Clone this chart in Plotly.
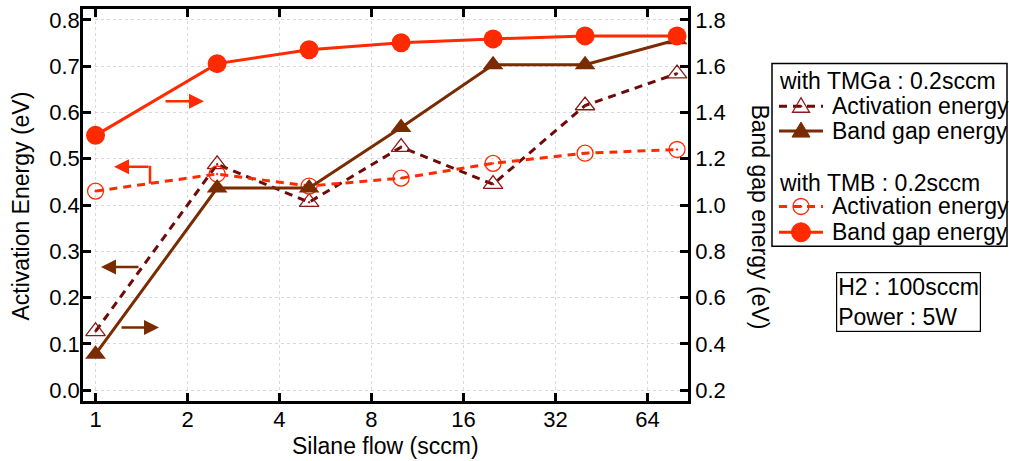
import plotly.graph_objects as go

silane_flow = [1, 2.5, 5, 10, 20, 40, 80]
tmga_activation = [0.127, 0.488, 0.406, 0.525, 0.445, 0.615, 0.684]
tmga_bandgap = [0.355, 1.073, 1.073, 1.335, 1.606, 1.606, 1.714]
tmb_activation = [0.430, 0.467, 0.441, 0.458, 0.490, 0.512, 0.520]
tmb_bandgap = [1.301, 1.611, 1.671, 1.701, 1.718, 1.731, 1.731]

x_ticks = [1, 2, 4, 8, 16, 32, 64]
left_ticks = [0.0, 0.1, 0.2, 0.3, 0.4, 0.5, 0.6, 0.7, 0.8]
right_ticks = [0.2, 0.4, 0.6, 0.8, 1.0, 1.2, 1.4, 1.6, 1.8]

legend_groups = ["with TMGa : 0.2sccm", "with TMB : 0.2sccm"]
legend_items = ["Activation energy", "Band gap energy"]
info_text = ["H2 : 100sccm", "Power : 5W"]

RED = "#FF2A00"
BROWN = "#7A2B00"
MAROON = "#6E0A0A"
TRI_OPEN = "#8B1A1A"
FONT = "Liberation Sans, Arial, sans-serif"
DASH = "8px,6px"
TXT = 23
TICK = 22

# plot area in pixels
PL, PR, PT, PB = 83, 688, 6, 401
def px(x):
    return (x - PL) / (PR - PL)
def py(y):
    return (PB - y) / (PB - PT)

fig = go.Figure()

fig.add_trace(go.Scatter(
    x=silane_flow, y=tmga_activation, mode="lines+markers", showlegend=False,
    line=dict(color=MAROON, width=3, dash=DASH),
    marker=dict(symbol="triangle-up-open-dot", size=17, color=TRI_OPEN, line=dict(width=1.3)),
))
fig.add_trace(go.Scatter(
    x=silane_flow, y=tmga_bandgap, mode="lines+markers", yaxis="y2", showlegend=False,
    line=dict(color=BROWN, width=3),
    marker=dict(symbol="triangle-up", size=18, color=BROWN),
))
fig.add_trace(go.Scatter(
    x=silane_flow, y=tmb_activation, mode="lines+markers", showlegend=False,
    line=dict(color=RED, width=3, dash=DASH),
    marker=dict(symbol="circle-open-dot", size=16, color=RED, line=dict(width=1.3)),
))
fig.add_trace(go.Scatter(
    x=silane_flow, y=tmb_bandgap, mode="lines+markers", yaxis="y2", showlegend=False,
    line=dict(color=RED, width=3),
    marker=dict(symbol="circle", size=19, color=RED),
))

axis_common = dict(
    showline=True, linecolor="black", linewidth=2.5,
    ticks="inside", ticklen=8, tickwidth=2.5, tickcolor="black",
    tickfont=dict(size=TICK, color="black", family=FONT),
    zeroline=False,
)

fig.update_layout(
    width=1009, height=461,
    margin=dict(l=PL, r=1009 - PR, t=PT, b=461 - PB),
    paper_bgcolor="white", plot_bgcolor="white",
    font=dict(family=FONT, size=TXT, color="black"),
    showlegend=False,
    xaxis=dict(
        type="log", range=[-0.041, 1.939],
        tickvals=x_ticks, ticktext=[str(v) for v in x_ticks],
        mirror="ticks",
        showgrid=True, gridcolor="#d9d9d9", griddash="dot", gridwidth=1,
        ticklabelstandoff=-3,
        **axis_common,
    ),
    yaxis=dict(
        range=[-0.0236, 0.8236],
        tickvals=left_ticks, ticktext=[f"{v:.1f}" for v in left_ticks],
        showgrid=True, gridcolor="#d9d9d9", griddash="dot", gridwidth=1,
        ticklabelstandoff=-4,
        **axis_common,
    ),
    yaxis2=dict(
        overlaying="y", side="right",
        range=[0.1528, 1.8472],
        tickvals=right_ticks, ticktext=[f"{v:.1f}" for v in right_ticks],
        showgrid=False,
        **axis_common,
    ),
)

def text_ann(text, x, y, xanchor="center", yanchor="middle", angle=0, **kw):
    d = dict(text=text, xref="paper", yref="paper", x=px(x), y=py(y),
             xanchor=xanchor, yanchor=yanchor, showarrow=False, textangle=angle,
             font=dict(size=TXT, color="black"))
    d.update(kw)
    return d

ann = []
shapes = []
# axis titles
ann.append(text_ann("Silane flow (sccm)", 385.5, 446))
ann.append(text_ann("Activation Energy (eV)", 21, 205, angle=-90))
ann.append(text_ann("Band gap energy (eV)", 760, 215, angle=90))

# info box
ann.append(text_ann("<br>".join(info_text), 836, 271, xanchor="left", yanchor="top",
                    align="left", bordercolor="black", borderwidth=1.2, borderpad=1))

# manual legend
shapes.append(dict(type="rect", xref="paper", yref="paper",
                   x0=px(772), x1=px(1007), y0=py(61), y1=py(245),
                   line=dict(color="black", width=1.5), fillcolor="white", layer="below"))
rows = [
    (legend_groups[0], None, 79),
    (legend_items[0], "tmga_act", 104),
    (legend_items[1], "tmga_bg", 129),
    (legend_groups[1], None, 181),
    (legend_items[0], "tmb_act", 205),
    (legend_items[1], "tmb_bg", 231),
]
for text, kind, yy in rows:
    if kind is None:
        ann.append(text_ann(text, 777, yy, xanchor="left"))
        continue
    ann.append(text_ann(text, 830, yy, xanchor="left"))
    cx, cy = px(801), py(yy)
    if kind == "tmga_act":
        shapes.append(dict(type="line", xref="paper", yref="paper", x0=px(779), x1=px(823),
                           y0=cy, y1=cy, line=dict(color=MAROON, width=3, dash=DASH)))
        shapes.append(dict(type="path", xref="paper", yref="paper", xsizemode="pixel",
                           ysizemode="pixel", xanchor=cx, yanchor=cy,
                           path="M -8.5,-6 L 8.5,-6 L 0,8.5 Z",
                           line=dict(color=TRI_OPEN, width=1.3)))
        shapes.append(dict(type="circle", xref="paper", yref="paper", xsizemode="pixel",
                           ysizemode="pixel", xanchor=cx, yanchor=cy, x0=-1.2, x1=1.2,
                           y0=-1.2, y1=1.2, fillcolor=TRI_OPEN, line=dict(width=0)))
    elif kind == "tmga_bg":
        shapes.append(dict(type="line", xref="paper", yref="paper", x0=px(779), x1=px(823),
                           y0=cy, y1=cy, line=dict(color=BROWN, width=3)))
        shapes.append(dict(type="path", xref="paper", yref="paper", xsizemode="pixel",
                           ysizemode="pixel", xanchor=cx, yanchor=cy,
                           path="M -9,-6 L 9,-6 L 0,9 Z",
                           fillcolor=BROWN, line=dict(color=BROWN, width=1)))
    elif kind == "tmb_act":
        shapes.append(dict(type="line", xref="paper", yref="paper", x0=px(779), x1=px(823),
                           y0=cy, y1=cy, line=dict(color=RED, width=3, dash=DASH)))
        shapes.append(dict(type="circle", xref="paper", yref="paper", xsizemode="pixel",
                           ysizemode="pixel", xanchor=cx, yanchor=cy, x0=-8, x1=8,
                           y0=-8, y1=8, line=dict(color=RED, width=1.3)))
        shapes.append(dict(type="circle", xref="paper", yref="paper", xsizemode="pixel",
                           ysizemode="pixel", xanchor=cx, yanchor=cy, x0=-1.2, x1=1.2,
                           y0=-1.2, y1=1.2, fillcolor=RED, line=dict(width=0)))
    else:
        shapes.append(dict(type="line", xref="paper", yref="paper", x0=px(779), x1=px(823),
                           y0=cy, y1=cy, line=dict(color=RED, width=3)))
        shapes.append(dict(type="circle", xref="paper", yref="paper", xsizemode="pixel",
                           ysizemode="pixel", xanchor=cx, yanchor=cy, x0=-9.5, x1=9.5,
                           y0=-9.5, y1=9.5, fillcolor=RED, line=dict(color=RED, width=1)))

# arrows
def arrow(hx, hy, tx, color):
    return dict(xref="paper", yref="paper", x=px(hx), y=py(hy), ax=tx - hx, ay=0,
                axref="pixel", ayref="pixel", text="", showarrow=True,
                arrowhead=2, arrowsize=1.2, arrowwidth=2.5, arrowcolor=color)

ann.append(arrow(204, 99, 164, RED))
ann.append(arrow(114, 165, 150, RED))
ann.append(arrow(101, 266, 140, BROWN))
ann.append(arrow(159, 327, 120, BROWN))
shapes.append(dict(type="line", xref="paper", yref="paper",
                   x0=px(150), x1=px(150), y0=py(164), y1=py(182),
                   line=dict(color=RED, width=2.5)))

fig.update_layout(annotations=ann, shapes=shapes)

fig.write_html("out.html")
